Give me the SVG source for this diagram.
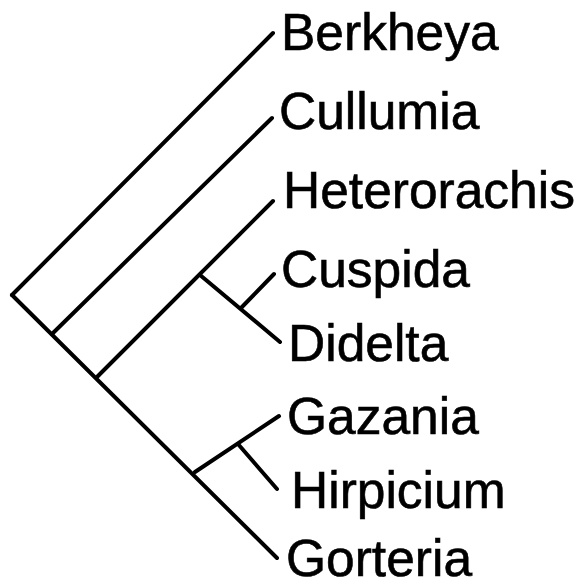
<svg xmlns="http://www.w3.org/2000/svg" width="583" height="583" viewBox="0 0 583 583">
<style>
.e{stroke:#000;stroke-width:4;stroke-linecap:round;fill:none}
.t{font-family:"Liberation Sans",Arial,sans-serif;font-size:51.5px;fill:#000;stroke:#000;stroke-width:0.6}
</style>
<rect width="583" height="583" fill="#fff"/>
<g id="connectors">
<line class="e" x1="12" y1="295" x2="273" y2="33"/>
<line class="e" x1="12" y1="295" x2="277" y2="558"/>
<line class="e" x1="52" y1="334" x2="272" y2="118"/>
<line class="e" x1="97" y1="377" x2="273" y2="201"/>
<line class="e" x1="200" y1="275" x2="280" y2="342"/>
<line class="e" x1="241" y1="308" x2="274" y2="274"/>
<line class="e" x1="195" y1="472" x2="279" y2="416"/>
<line class="e" x1="238" y1="444" x2="277" y2="489"/>
</g>
<g id="berkheya"><text class="t" x="281" y="50">Berkheya</text></g>
<g id="cullumia"><text class="t" x="279" y="129">Cullumia</text></g>
<g id="heterorachis"><text class="t" x="283" y="208">Heterorachis</text></g>
<g id="cuspida"><text class="t" x="281" y="287">Cuspida</text></g>
<g id="didelta"><text class="t" x="288" y="361">Didelta</text></g>
<g id="gazania"><text class="t" x="287" y="434">Gazania</text></g>
<g id="hirpicium"><text class="t" x="291" y="508">Hirpicium</text></g>
<g id="gorteria"><text class="t" x="286" y="576">Gorteria</text></g>
</svg>
